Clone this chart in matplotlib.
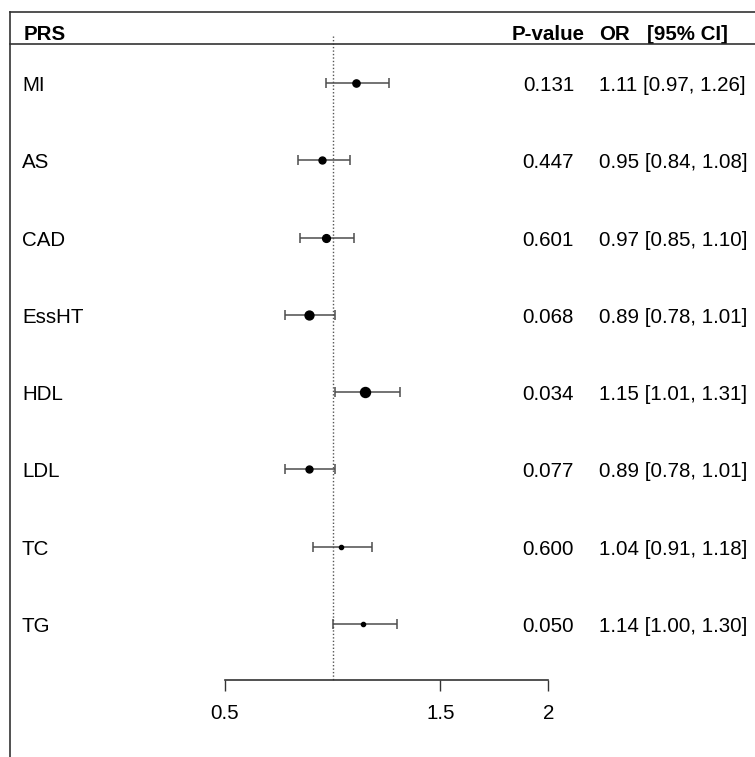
import matplotlib
matplotlib.use("Agg")
import matplotlib.pyplot as plt
from matplotlib.lines import Line2D
from matplotlib.transforms import blended_transform_factory, offset_copy

plt.rcParams['font.family'] = ['Liberation Sans', 'DejaVu Sans']

labels = ["MI", "AS", "CAD", "EssHT", "HDL", "LDL", "TC", "TG"]
odds = [1.11, 0.95, 0.97, 0.89, 1.15, 0.89, 1.04, 1.14]
lower = [0.97, 0.84, 0.85, 0.78, 1.01, 0.78, 0.91, 1.00]
upper = [1.26, 1.08, 1.10, 1.01, 1.31, 1.01, 1.18, 1.30]
pvals = ["0.131", "0.447", "0.601", "0.068", "0.034", "0.077", "0.600", "0.050"]
or_text = ["1.11 [0.97, 1.26]", "0.95 [0.84, 1.08]", "0.97 [0.85, 1.10]",
           "0.89 [0.78, 1.01]", "1.15 [1.01, 1.31]", "0.89 [0.78, 1.01]",
           "1.04 [0.91, 1.18]", "1.14 [1.00, 1.30]"]
marker_sizes = [5.2, 5.0, 5.6, 6.4, 7.2, 5.0, 3.0, 3.0]
xticks = [0.5, 1.5, 2]
xtick_labels = ["0.5", "1.5", "2"]

FS = 14.8
W, H = 755, 757
fig = plt.figure(figsize=(W / 100, H / 100), dpi=100)
ax = fig.add_axes([0, 0, 1, 1])

x0px, scale = 225.0, 215.5
ax.set_xlim(0.5 - x0px / scale, 0.5 + (W - x0px) / scale)
row0, step = 83.0, 77.3
ax.set_ylim((H - row0) / step, -row0 / step)

def ypx(p):
    return (p - row0) / step

rows = list(range(len(labels)))
for i in rows:
    ax.errorbar(odds[i], i, xerr=[[odds[i] - lower[i]], [upper[i] - odds[i]]],
                fmt='o', color='black', ms=marker_sizes[i], ecolor='#4d4d4d',
                elinewidth=1.1, capsize=3.8, capthick=1.1, zorder=3)

ax.vlines(1, ypx(36), ypx(680), colors='#555555', linestyles=(0, (1, 1.5)), lw=1.0, zorder=1)

for s in ['top', 'left', 'right']:
    ax.spines[s].set_visible(False)
ax.spines['bottom'].set_position(('data', ypx(680)))
ax.spines['bottom'].set_bounds(0.5, 2)
ax.spines['bottom'].set_color('#333333')
ax.spines['bottom'].set_linewidth(1.2)
ax.set_xticks(xticks)
ax.set_xticklabels(xtick_labels, fontsize=FS)
ax.tick_params(axis='x', length=8, width=1.0, color='#333333', pad=9)
ax.set_yticks([])
ax.patch.set_visible(False)

tr0 = blended_transform_factory(fig.transFigure, ax.transData)
tr = offset_copy(tr0, fig=fig, x=0, y=-2.5, units='dots')
trh = offset_copy(tr0, fig=fig, x=0, y=-1.5, units='dots')
for i in rows:
    ax.text(22 / W, i, labels[i], transform=tr, fontsize=FS, ha='left', va='center')
    ax.text(574 / W, i, pvals[i], transform=tr, fontsize=FS, ha='right', va='center')
    ax.text(599 / W, i, or_text[i], transform=tr, fontsize=FS, ha='left', va='center')

hy = ypx(33)
ax.text(24 / W, hy, "PRS", transform=trh, fontsize=FS, fontweight='bold', ha='left', va='center')
ax.text(512 / W, hy, "P-value", transform=trh, fontsize=FS, fontweight='bold', ha='left', va='center')
ax.text(599 / W, hy, "OR", transform=trh, fontsize=FS, fontweight='bold', ha='left', va='center')
ax.text(647 / W, hy, "[95% CI]", transform=trh, fontsize=FS, fontweight='bold', ha='left', va='center')

def fline(x1, y1, x2, y2):
    fig.add_artist(Line2D([x1 / W, x2 / W], [1 - y1 / H, 1 - y2 / H],
                          transform=fig.transFigure, color='#333333', lw=1.2))

fline(10, 12, W, 12)
fline(10, 12, 10, H)
fline(10, 43.5, W, 43.5)

fig.savefig("out.png", dpi=100)
